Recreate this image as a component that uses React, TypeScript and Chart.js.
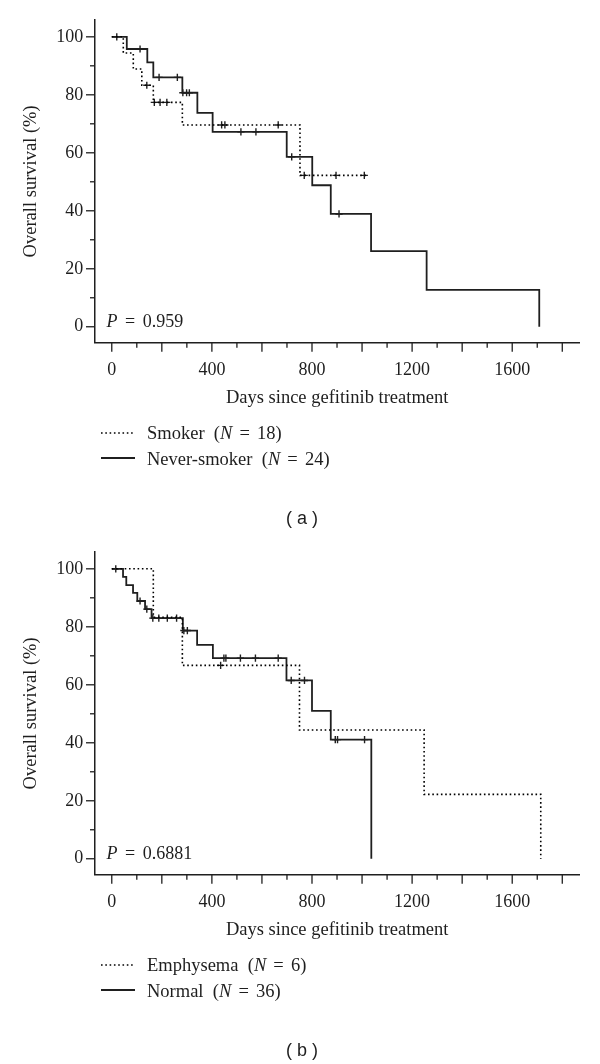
import React, { useEffect, useRef } from "react";
import { Chart, registerables } from "chart.js";

Chart.register(...registerables);

// ---------------- Data: panel (a) ----------------
const smokerDays = [0, 46, 86, 120, 166, 282, 752, 1015];
const smokerSurvival = [100, 94.4, 88.9, 83.3, 77.4, 69.6, 52.2, 52.2];
const smokerCensorDays = [140, 170, 193, 220, 439, 452, 665, 769, 896, 1009];
const smokerCensorSurvival = [83.3, 77.4, 77.4, 77.4, 69.6, 69.6, 69.6, 52.2, 52.2, 52.2];

const neverSmokerDays = [0, 60, 142, 166, 282, 342, 403, 699, 801, 875, 1036, 1258, 1708];
const neverSmokerSurvival = [100, 95.8, 91.2, 86.0, 80.7, 73.8, 67.2, 58.6, 48.8, 38.9, 26.1, 12.7, 0];
const neverSmokerCensorDays = [20, 113, 189, 262, 284, 299, 310, 516, 576, 719, 908];
const neverSmokerCensorSurvival = [100, 95.8, 86.0, 86.0, 80.7, 80.7, 80.7, 67.2, 67.2, 58.6, 38.9];

// ---------------- Data: panel (b) ----------------
const emphysemaDays = [0, 166, 282, 750, 1248, 1714];
const emphysemaSurvival = [100, 83.3, 66.7, 44.4, 22.2, 0];
const emphysemaCensorDays = [435];
const emphysemaCensorSurvival = [66.7];

const normalDays = [0, 45, 58, 85, 102, 133, 159, 284, 341, 404, 698, 800, 875, 1037];
const normalSurvival = [100, 97.2, 94.4, 91.7, 88.9, 86.1, 83.0, 78.7, 73.8, 69.2, 61.5, 51.0, 41.1, 0];
const normalCensorDays = [16, 113, 140, 164, 188, 222, 259, 288, 302, 448, 456, 514, 574, 665, 717, 770, 893, 902, 1010];
const normalCensorSurvival = [100, 88.9, 86.1, 83.0, 83.0, 83.0, 83.0, 78.7, 78.7, 69.2, 69.2, 69.2, 69.2, 69.2, 61.5, 61.5, 41.1, 41.1, 41.1];

// ---------------- Axis labels ----------------
const xTickLabels = [0, 400, 800, 1200, 1600];
const yTickLabels = [0, 20, 40, 60, 80, 100];
const xTitle = "Days since gefitinib treatment";
const yTitle = "Overall survival (%)";

// ---------------- Styling ----------------
const LINE_COLOR = "#1f1f1f";
const TEXT_COLOR = "#1e1e1e";
const SERIF = '"Liberation Serif", "Times New Roman", serif';
const SANS = '"Liberation Sans", Arial, sans-serif';
const X_MIN = -67;
const X_MAX = 1868;
const Y_MIN = -5.5;
const Y_MAX = 105.8;
const CANVAS_W = 600;
const CANVAS_H = 532;

type Curve = {
  label: string;
  days: number[];
  surv: number[];
  censorDays: number[];
  censorSurv: number[];
  dotted: boolean;
};

const xy = (xs: number[], ys: number[]) => xs.map((x, i) => ({ x, y: ys[i] }));

const tickMarkPlugin = {
  id: "tickMarks",
  afterDraw(chart: any) {
    const { ctx, chartArea, scales } = chart;
    ctx.save();
    ctx.strokeStyle = LINE_COLOR;
    ctx.lineWidth = 1.3;
    const xs = scales.x;
    for (const t of xs.ticks) {
      const px = xs.getPixelForValue(t.value);
      const len = t.value % 200 === 0 ? 9 : 5;
      ctx.beginPath();
      ctx.moveTo(px, chartArea.bottom);
      ctx.lineTo(px, chartArea.bottom + len);
      ctx.stroke();
    }
    const ys = scales.y;
    for (const t of ys.ticks) {
      const py = ys.getPixelForValue(t.value);
      const len = t.value % 20 === 0 ? 9 : 5;
      ctx.beginPath();
      ctx.moveTo(chartArea.left, py);
      ctx.lineTo(chartArea.left - len, py);
      ctx.stroke();
    }
    ctx.restore();
  },
};

function buildConfig(curves: Curve[]): any {
  const datasets: any[] = [];
  curves.forEach((c) => {
    datasets.push({
      label: c.label,
      data: xy(c.days, c.surv),
      stepped: "before",
      borderColor: c.dotted ? "#000" : LINE_COLOR,
      borderWidth: c.dotted ? 1.6 : 1.8,
      borderDash: c.dotted ? [1.6, 2.7] : [],
      pointRadius: 0,
      fill: false,
    });
    datasets.push({
      label: c.label + " censored",
      data: xy(c.censorDays, c.censorSurv),
      showLine: false,
      pointStyle: "cross",
      pointRadius: 3.6,
      pointBorderWidth: 1.4,
      pointBorderColor: LINE_COLOR,
      borderColor: LINE_COLOR,
    });
  });

  return {
    type: "line",
    data: { datasets },
    options: {
      animation: false,
      responsive: false,
      events: [],
      layout: { padding: { left: 0, right: CANVAS_W - 579.3, top: 20, bottom: CANVAS_H - 412.7 } },
      plugins: { legend: { display: false }, tooltip: { enabled: false } },
      scales: {
        x: {
          type: "linear",
          min: X_MIN,
          max: X_MAX,
          afterFit: (s: any) => {
            s.height = 70;
          },
          grid: { display: false, drawTicks: true, tickLength: 9 },
          border: { display: true, color: LINE_COLOR, width: 1.5 },
          ticks: {
            stepSize: 100,
            includeBounds: false,
            autoSkip: false,
            maxRotation: 0,
            padding: 7.5,
            color: TEXT_COLOR,
            font: { family: SERIF, size: 18 },
            callback: (v: number) => (xTickLabels.includes(v) ? String(v) : ""),
          },
          title: {
            display: true,
            text: xTitle,
            color: TEXT_COLOR,
            font: { family: SERIF, size: 18.5 },
            padding: { top: 0, bottom: 3.6 },
          },
        },
        y: {
          type: "linear",
          min: Y_MIN,
          max: Y_MAX,
          afterFit: (s: any) => {
            s.width = 95;
          },
          grid: { display: false, drawTicks: true, tickLength: 9 },
          border: { display: true, color: LINE_COLOR, width: 1.5 },
          ticks: {
            stepSize: 10,
            includeBounds: false,
            autoSkip: false,
            padding: 2.7,
            color: TEXT_COLOR,
            font: { family: SERIF, size: 18 },
            callback: (v: number) => (yTickLabels.includes(v) ? String(v) : ""),
          },
          title: {
            display: true,
            text: yTitle,
            color: TEXT_COLOR,
            font: { family: SERIF, size: 18.5 },
            padding: { top: 20.5, bottom: 0 },
          },
        },
      },
    },
    plugins: [tickMarkPlugin],
  };
}

function serifTop(baseline: number, fs: number) {
  return baseline - 0.8375 * fs;
}

type LegendEntry = { name: string; n: number; dotted: boolean };

function Panel(props: {
  top: number;
  curves: Curve[];
  pValue: string;
  legend: LegendEntry[];
  tag: string;
}) {
  const ref = useRef<HTMLCanvasElement | null>(null);
  useEffect(() => {
    if (!ref.current) return;
    const chart = new Chart(ref.current, buildConfig(props.curves));
    return () => chart.destroy();
  }, []);

  const legendRows = [
    { sampleY: 433, baseline: 439.2 },
    { sampleY: 457.5, baseline: 465 },
  ];

  return (
    <div style={{ position: "absolute", left: 0, top: props.top, width: CANVAS_W, height: CANVAS_H }}>
      <canvas
        ref={ref}
        width={CANVAS_W}
        height={CANVAS_H}
        style={{ position: "absolute", left: 0, top: 0, width: CANVAS_W, height: CANVAS_H, display: "block" }}
      />
      <div
        style={{
          position: "absolute",
          left: 106.5,
          top: serifTop(327, 18),
          fontFamily: SERIF,
          fontSize: 18,
          lineHeight: "18px",
          color: TEXT_COLOR,
          whiteSpace: "nowrap",
          wordSpacing: 3,
        }}
      >
        <i>P</i> = {props.pValue}
      </div>
      {props.legend.map((e, i) => (
        <React.Fragment key={e.name}>
          <svg
            width={36}
            height={6}
            style={{ position: "absolute", left: 100, top: legendRows[i].sampleY - 3 }}
          >
            <line
              x1={1}
              y1={3}
              x2={35}
              y2={3}
              stroke={e.dotted ? "#000" : LINE_COLOR}
              strokeWidth={e.dotted ? 1.6 : 1.8}
              strokeDasharray={e.dotted ? "1.6 2.7" : undefined}
            />
          </svg>
          <div
            style={{
              position: "absolute",
              left: 147,
              top: serifTop(legendRows[i].baseline, 18.5),
              fontFamily: SERIF,
              fontSize: 18.5,
              lineHeight: "18.5px",
              color: TEXT_COLOR,
              whiteSpace: "nowrap",
              wordSpacing: 2.5,
            }}
          >
            {e.name}
            {"\u2002("}
            <i>N</i> = {e.n})
          </div>
        </React.Fragment>
      ))}
      <div
        style={{
          position: "absolute",
          left: 202,
          width: 200,
          textAlign: "center",
          top: 524 - 0.8465 * 18,
          fontFamily: SANS,
          fontSize: 18,
          lineHeight: "18px",
          color: TEXT_COLOR,
          whiteSpace: "pre",
        }}
      >
        {props.tag}
      </div>
    </div>
  );
}

export default function App() {
  const curvesA: Curve[] = [
    { label: "Smoker", days: smokerDays, surv: smokerSurvival, censorDays: smokerCensorDays, censorSurv: smokerCensorSurvival, dotted: true },
    { label: "Never-smoker", days: neverSmokerDays, surv: neverSmokerSurvival, censorDays: neverSmokerCensorDays, censorSurv: neverSmokerCensorSurvival, dotted: false },
  ];
  const curvesB: Curve[] = [
    { label: "Emphysema", days: emphysemaDays, surv: emphysemaSurvival, censorDays: emphysemaCensorDays, censorSurv: emphysemaCensorSurvival, dotted: true },
    { label: "Normal", days: normalDays, surv: normalSurvival, censorDays: normalCensorDays, censorSurv: normalCensorSurvival, dotted: false },
  ];
  return (
    <div style={{ position: "absolute", left: 0, top: 0, width: 600, height: 1064, background: "#fff" }}>
      <Panel
        top={0}
        curves={curvesA}
        pValue="0.959"
        legend={[
          { name: "Smoker", n: 18, dotted: true },
          { name: "Never-smoker", n: 24, dotted: false },
        ]}
        tag="( a )"
      />
      <Panel
        top={532}
        curves={curvesB}
        pValue="0.6881"
        legend={[
          { name: "Emphysema", n: 6, dotted: true },
          { name: "Normal", n: 36, dotted: false },
        ]}
        tag="( b )"
      />
    </div>
  );
}
